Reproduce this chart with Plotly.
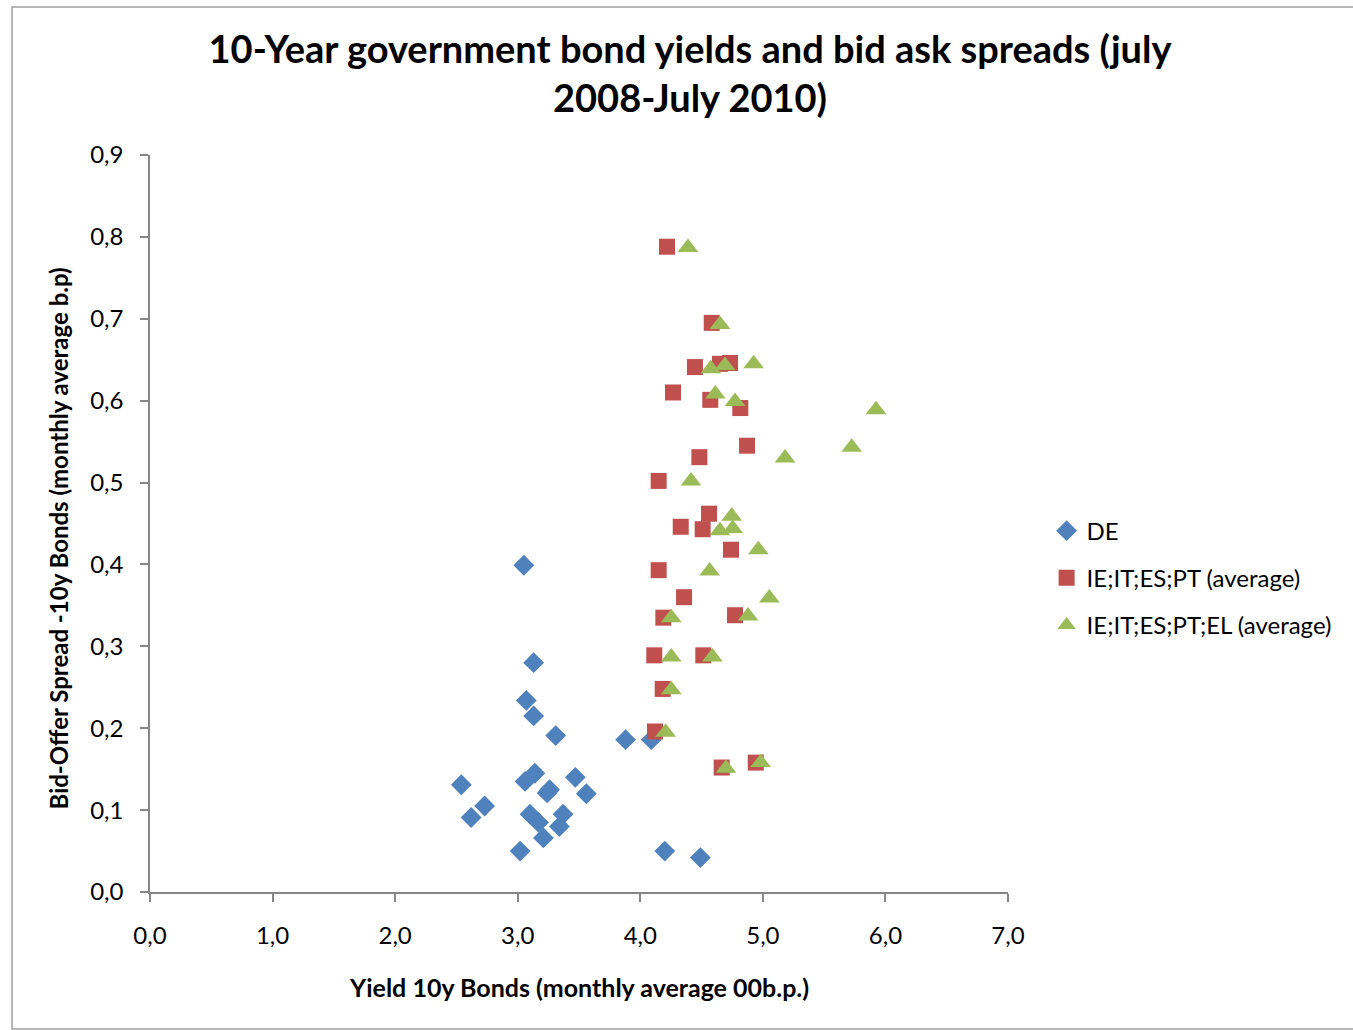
import plotly.graph_objects as go

# ---- data ----
de_x = [3.05, 3.13, 3.07, 3.13, 3.31, 3.88, 4.09, 2.54, 2.73, 2.62, 3.14, 3.06,
        3.26, 3.24, 3.47, 3.56, 3.10, 3.17, 3.37, 3.34, 3.21, 3.02, 4.20, 4.49]
de_y = [0.399, 0.280, 0.234, 0.215, 0.191, 0.186, 0.186, 0.131, 0.105, 0.091, 0.145, 0.135,
        0.125, 0.121, 0.140, 0.120, 0.095, 0.085, 0.095, 0.080, 0.066, 0.050, 0.050, 0.042]

iitesp_x = [4.218, 4.583, 4.446, 4.650, 4.732, 4.267, 4.571, 4.816, 4.871, 4.482, 4.150, 4.561, 4.330,
            4.509, 4.740, 4.150, 4.357, 4.188, 4.773, 4.114, 4.514, 4.183, 4.120, 4.664, 4.942]
iitesp_y = [0.788, 0.695, 0.641, 0.645, 0.646, 0.610, 0.601, 0.591, 0.545, 0.531, 0.502, 0.462, 0.446,
            0.443, 0.418, 0.393, 0.360, 0.335, 0.338, 0.289, 0.289, 0.248, 0.196, 0.152, 0.158]

iitespel_x = [4.389, 4.650, 4.575, 4.691, 4.925, 4.612, 4.773, 5.923, 5.725, 5.181, 4.414, 4.746, 4.650,
              4.754, 4.963, 4.566, 5.053, 4.253, 4.879, 4.253, 4.588, 4.253, 4.207, 4.699, 4.982]
iitespel_y = [0.787, 0.693, 0.639, 0.643, 0.645, 0.608, 0.599, 0.589, 0.543, 0.530, 0.502, 0.459, 0.441,
              0.444, 0.418, 0.392, 0.359, 0.335, 0.337, 0.287, 0.287, 0.247, 0.195, 0.151, 0.158]

series_names = ["DE", "IE;IT;ES;PT (average)", "IE;IT;ES;PT;EL (average)"]
x_ticks = [0, 1, 2, 3, 4, 5, 6, 7]
y_ticks = [0, 0.1, 0.2, 0.3, 0.4, 0.5, 0.6, 0.7, 0.8, 0.9]

FONT = "Lato, 'Open Sans', sans-serif"

fig = go.Figure()
fig.add_trace(go.Scatter(x=de_x, y=de_y, mode="markers", name=series_names[0], legendgroup="a",
                         marker=dict(symbol="diamond", size=16, color="#4F81BD")))
fig.add_trace(go.Scatter(x=iitesp_x, y=iitesp_y, mode="markers", name=series_names[1], legendgroup="b",
                         marker=dict(symbol="square", size=16, color="#C0504D")))
fig.add_trace(go.Scatter(x=iitespel_x, y=iitespel_y, mode="markers", name=series_names[2], legendgroup="c",
                         marker=dict(symbol="triangle-up", size=18, color="#9BBB59")))

axis_common = dict(showgrid=False, zeroline=False, showline=True, linecolor="#868686", linewidth=1.5,
                   ticks="outside", ticklen=8, tickcolor="#868686", tickwidth=1.5,
                   tickformat=".1f", tickfont=dict(family=FONT, size=24, color="#000000"))

fig.update_layout(
    width=1353, height=1030,
    paper_bgcolor="white", plot_bgcolor="white",
    margin=dict(l=150, r=345, t=155, b=138, autoexpand=False),
    separators=", ",
    font=dict(family=FONT, color="#000000"),
    title=dict(text="<b>10-Year government bond yields and bid ask spreads (july<br>2008-July 2010)</b>",
               x=0.51, xanchor="center", xref="container", y=0.939, yanchor="middle", yref="container",
               font=dict(family=FONT, size=38, color="#000000")),
    xaxis=dict(range=[0, 7], tickvals=x_ticks, ticklabelstandoff=13, **axis_common),
    yaxis=dict(range=[0, 0.9], tickvals=y_ticks, ticklabelstandoff=12, **axis_common),
    legend=dict(x=1.045, xanchor="left", y=0.426, yanchor="middle", traceorder="grouped",
                tracegroupgap=13, font=dict(family=FONT, size=24, color="#000000"),
                itemwidth=30, bgcolor="rgba(0,0,0,0)"),
    showlegend=True,
    annotations=[
        dict(text="<b>Yield 10y Bonds (monthly average 00b.p.)</b>", xref="paper", yref="paper",
             x=0.5, y=-0.129, xanchor="center", yanchor="middle", showarrow=False,
             font=dict(family=FONT, size=25, color="#000000")),
        dict(text="<b>Bid-Offer Spread -10y Bonds (monthly average b.p)</b>", xref="paper", yref="paper",
             x=-0.107, y=0.48, xanchor="center", yanchor="middle", textangle=-90, showarrow=False,
             font=dict(family=FONT, size=24, color="#000000")),
    ],
    shapes=[dict(type="rect", xref="paper", yref="paper", x0=-0.1608, x1=1.42, y0=-0.1859, y1=1.2008,
                 line=dict(color="#A0A0A0", width=1.5), fillcolor="rgba(0,0,0,0)", layer="below")],
)

fig.write_html("out.html")
